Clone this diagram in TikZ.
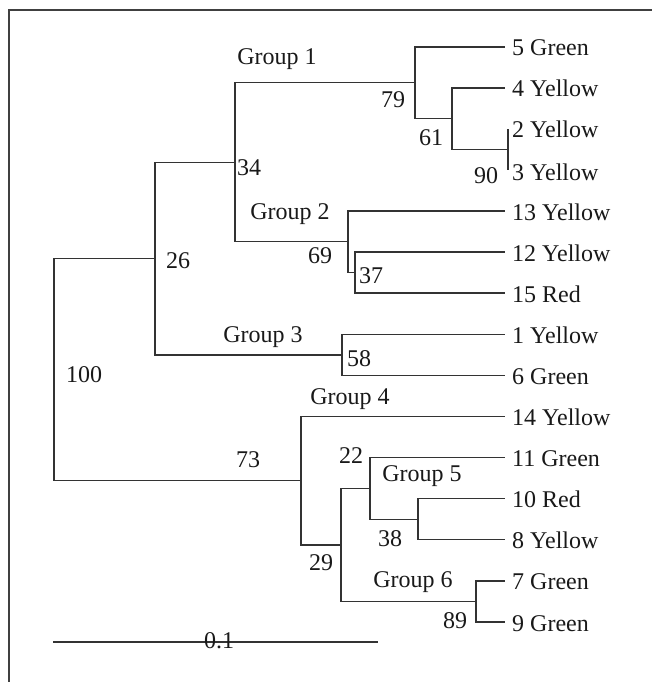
\documentclass[tikz,border=0pt]{standalone}
\usepackage{fontspec}
\setmainfont{Liberation Serif}
\begin{document}
\begin{tikzpicture}[x=1pt,y=-1pt,
  branch/.style={line width=1.2pt,draw=black!80},
  frameline/.style={line width=1.1pt,draw=black!75},
  leaflab/.style={anchor=base west,inner sep=0pt,font=\fontsize{24}{27}\selectfont,text=black!90},
  lab/.style={anchor=base,inner sep=0pt,font=\fontsize{24}{27}\selectfont,text=black!90}]
\useasboundingbox (0,0) rectangle (652,682);
% frame (only top and left edges visible)
\draw[frameline] (9,682) -- (9,10) -- (652,10);
% leaves
\coordinate (t5)  at (505,47);
\coordinate (t4)  at (505,88);
\coordinate (t2)  at (508,129);
\coordinate (t3)  at (508,170);
\coordinate (t13) at (505,211);
\coordinate (t12) at (505,252);
\coordinate (t15) at (505,293);
\coordinate (t1)  at (505,334.5);
\coordinate (t6)  at (505,375.6);
\coordinate (t14) at (505,416.6);
\coordinate (t11) at (505,457.7);
\coordinate (t10) at (505,498.8);
\coordinate (t8)  at (505,539.8);
\coordinate (t7)  at (505,580.9);
\coordinate (t9)  at (505,622);
% internal nodes
\coordinate (nC)   at (508,149.5);
\coordinate (nB)   at (452,118.8);
\coordinate (nA)   at (415,82.9);
\coordinate (nE)   at (355,272.5);
\coordinate (nD)   at (348,241.8);
\coordinate (n34)  at (235,162.3);
\coordinate (nF)   at (342,355);
\coordinate (n26)  at (155,258.7);
\coordinate (nJ)   at (418,519.3);
\coordinate (nI)   at (370,488.5);
\coordinate (nK)   at (476,601.5);
\coordinate (nH)   at (341,545);
\coordinate (nG)   at (301,480.8);
\coordinate (n100) at (54,369.8);
% branches
\draw[branch] (n100) |- (n26);
\draw[branch] (n100) |- (nG);
\draw[branch] (n26) |- (n34);
\draw[branch] (n26) |- (nF);
\draw[branch] (n34) |- (nA);
\draw[branch] (n34) |- (nD);
\draw[branch] (nA) |- (t5);
\draw[branch] (nA) |- (nB);
\draw[branch] (nB) |- (t4);
\draw[branch] (nB) |- (nC);
\draw[branch] (t2) -- (t3);
\draw[branch] (nD) |- (t13);
\draw[branch] (nD) |- (nE);
\draw[branch] (nE) |- (t12);
\draw[branch] (nE) |- (t15);
\draw[branch] (nF) |- (t1);
\draw[branch] (nF) |- (t6);
\draw[branch] (nG) |- (t14);
\draw[branch] (nG) |- (nH);
\draw[branch] (nH) |- (nI);
\draw[branch] (nH) |- (nK);
\draw[branch] (nI) |- (t11);
\draw[branch] (nI) |- (nJ);
\draw[branch] (nJ) |- (t10);
\draw[branch] (nJ) |- (t8);
\draw[branch] (nK) |- (t7);
\draw[branch] (nK) |- (t9);
% leaf labels
\node[leaflab] (l5)  at (512,56)    {5 Green};
\node[leaflab] (l4)  at (512,97)    {4 Yellow};
\node[leaflab] (l2)  at (512,138)   {2 Yellow};
\node[leaflab] (l3)  at (512,180)   {3 Yellow};
\node[leaflab] (l13) at (512,220)   {13 Yellow};
\node[leaflab] (l12) at (512,261)   {12 Yellow};
\node[leaflab] (l15) at (512,302)   {15 Red};
\node[leaflab] (l1)  at (512,343.5) {1 Yellow};
\node[leaflab] (l6)  at (512,384.6) {6 Green};
\node[leaflab] (l14) at (512,425.6) {14 Yellow};
\node[leaflab] (l11) at (512,466.7) {11 Green};
\node[leaflab] (l10) at (512,507.8) {10 Red};
\node[leaflab] (l8)  at (512,548.8) {8 Yellow};
\node[leaflab] (l7)  at (512,589.9) {7 Green};
\node[leaflab] (l9)  at (512,631)   {9 Green};
% group and support labels
\node[lab] (g1) at (277,65)  {Group 1};
\node[lab] (g2) at (290,219) {Group 2};
\node[lab] (g3) at (263,342) {Group 3};
\node[lab] (g4) at (350,404) {Group 4};
\node[lab] (g5) at (422,481) {Group 5};
\node[lab] (g6) at (413,587) {Group 6};
\node[lab] (s79) at (393,108) {79};
\node[lab] (s61) at (431,145) {61};
\node[lab] (s90) at (486,183) {90};
\node[lab,anchor=base west] (s34) at (237,175) {34};
\node[lab] (s69) at (320,263) {69};
\node[lab] (s37) at (371,283) {37};
\node[lab] (s26) at (178,268) {26};
\node[lab] (s58) at (359,366) {58};
\node[lab] (s100) at (84,382) {100};
\node[lab] (s73) at (248,467) {73};
\node[lab] (s22) at (351,463) {22};
\node[lab] (s38) at (390,546) {38};
\node[lab] (s29) at (321,570) {29};
\node[lab] (s89) at (455,628) {89};
% scale bar
\coordinate (sbL) at (53,642);
\coordinate (sbR) at (378,642);
\draw[branch] (sbL) -- (sbR);
\node[lab] (sb) at (219,648) {0.1};
\end{tikzpicture}
\end{document}
